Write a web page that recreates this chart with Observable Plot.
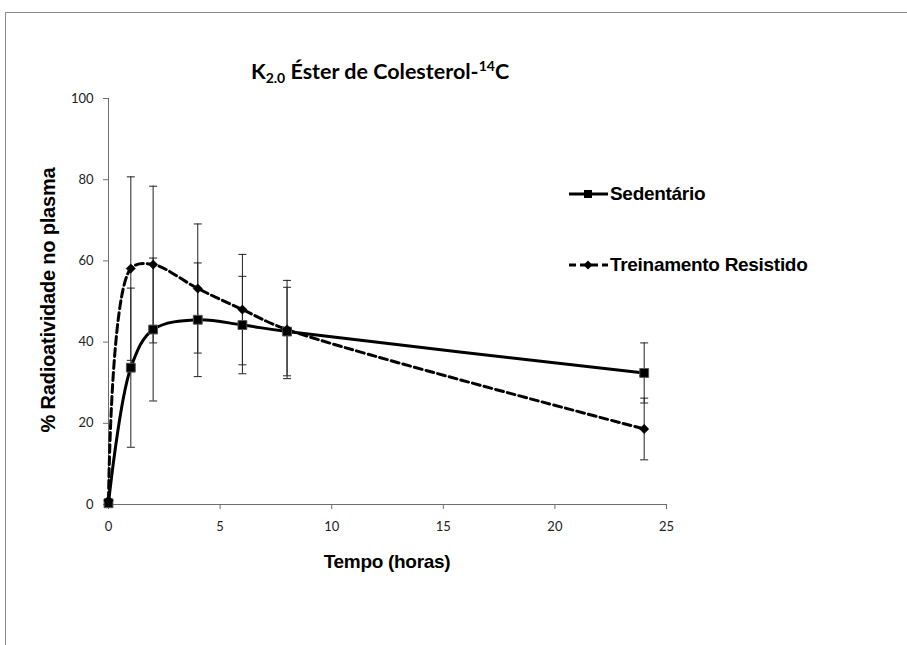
<!DOCTYPE html>
<html><head><meta charset="utf-8">
<script src="https://cdn.jsdelivr.net/npm/d3@7"></script>
<script src="https://cdn.jsdelivr.net/npm/@observablehq/plot@0.6"></script>
<style>
body{margin:0;background:#fff;}
#wrap{position:relative;width:907px;height:645px;overflow:hidden;background:#fff;}
#frame{position:absolute;left:5px;top:12px;width:1000px;height:1000px;border-top:1px solid #8a8a8a;border-left:1px solid #8a8a8a;box-sizing:border-box;}
.t{position:absolute;white-space:nowrap;color:#000;}
#title{font-family:Lato,"Open Sans",sans-serif;font-weight:bold;font-size:21.5px;left:380px;top:58px;transform:translateX(-50%);}
#title sub{font-size:14px;vertical-align:-4px;line-height:0;}
#title sup{font-size:14px;vertical-align:8px;line-height:0;}
#xlab{font-family:"Liberation Sans",Arial,sans-serif;font-weight:bold;font-size:19px;left:387px;top:551px;transform:translateX(-50%);letter-spacing:-0.3px;}
#ylab{font-family:"Liberation Sans",Arial,sans-serif;font-weight:bold;font-size:20px;left:48px;top:300px;transform:translate(-50%,-50%) rotate(-90deg);letter-spacing:-0.2px;}
.leg{position:absolute;display:flex;align-items:center;font-family:"Liberation Sans",Arial,sans-serif;font-weight:bold;font-size:19px;white-space:nowrap;letter-spacing:-0.3px;}
.leg svg{margin-right:2px;}
</style></head><body>
<div id="wrap"><div id="frame"></div></div>
<script>
// ---- data ----
const tempo    = [0, 1, 2, 4, 6, 8, 24];
const sedMean  = [0.3, 33.7, 43.1, 45.5, 44.2, 42.6, 32.4];
const sedSD    = [0, 19.6, 17.6, 14.0, 12.0, 10.9, 7.4];
const treMean  = [1.0, 58.1, 59.1, 53.2, 48.0, 43.1, 18.6];
const treSD    = [0, 22.6, 19.3, 15.9, 13.6, 12.1, 7.6];
const xTicks   = [0, 5, 10, 15, 20, 25];
const yTicks   = [0, 20, 40, 60, 80, 100];
const seriesNames = ["Sedentário", "Treinamento Resistido"];

const sed = tempo.map((t, i) => ({t, m: sedMean[i], sd: sedSD[i]}));
const tre = tempo.map((t, i) => ({t, m: treMean[i], sd: treSD[i]}));
const all = [...sed, ...tre].filter(d => d.sd > 0);
const caps = all.flatMap(d => [{t: d.t, y: d.m - d.sd}, {t: d.t, y: d.m + d.sd}]);

const capSymbol = {draw(ctx, size) { const w = Math.sqrt(size / Math.PI); ctx.moveTo(-w, 0); ctx.lineTo(w, 0); }};

const chart = Plot.plot({
  width: 907, height: 645,
  marginLeft: 108, marginRight: 241, marginTop: 98, marginBottom: 141,
  style: {fontFamily: "Lato, 'Open Sans', sans-serif", fontSize: "13px", background: "transparent", color: "#000"},
  x: {domain: [0, 25]},
  y: {domain: [0, 100]},
  marks: [
    Plot.ruleX([0], {stroke: "#6e6e6e", strokeWidth: 1}),
    Plot.ruleY([0], {stroke: "#6e6e6e", strokeWidth: 1}),
    Plot.axisX({ticks: xTicks, tickSize: 5, tickPadding: 12, stroke: "#6e6e6e", tickFormat: d => d, label: null, fill: "#222"}),
    Plot.axisY({ticks: yTicks, tickSize: 5, tickPadding: 10, stroke: "#6e6e6e", tickFormat: d => d, label: null, fill: "#222"}),
    Plot.ruleX(all, {x: "t", y1: d => d.m - d.sd, y2: d => d.m + d.sd, stroke: "#222", strokeWidth: 1}),
    Plot.dot(caps, {x: "t", y: "y", symbol: capSymbol, r: 4, stroke: "#222", fill: "none", strokeWidth: 1}),
    Plot.line(sed, {x: "t", y: "m", curve: "catmull-rom", stroke: "#000", strokeWidth: 3}),
    Plot.line(tre, {x: "t", y: "m", curve: "catmull-rom", stroke: "#000", strokeWidth: 3, strokeDasharray: "8,4"}),
    Plot.dot(sed, {x: "t", y: "m", symbol: "square", r: 5, fill: "#000", stroke: "#555", strokeWidth: 1}),
    Plot.dot(tre, {x: "t", y: "m", symbol: "diamond2", r: 4.2, fill: "#000", stroke: "#000", strokeWidth: 0.5})
  ]
});
chart.style.position = "absolute";
chart.style.left = "0px";
chart.style.top = "0px";
const wrap = document.getElementById("wrap");
wrap.appendChild(chart);

function addText(id, html) { const d = document.createElement("div"); d.className = "t"; d.id = id; d.innerHTML = html; wrap.appendChild(d); }
addText("title", "K<sub>2.0</sub> Éster de Colesterol-<sup>14</sup>C");
addText("xlab", "Tempo (horas)");
addText("ylab", "% Radioatividade no plasma");

function addLegend(name, top, dashed, marker) {
  const d = document.createElement("div");
  d.className = "leg";
  d.style.left = "569px";
  d.style.top = (top - 11) + "px";
  d.style.height = "22px";
  const dash = dashed ? 'stroke-dasharray="7,4"' : '';
  const mk = marker === "square"
    ? '<rect x="15" y="7" width="8" height="8" fill="#000"/>'
    : '<path d="M19,6.5 L23.5,11 L19,15.5 L14.5,11 Z" fill="#000"/>';
  d.innerHTML = `<svg width="39" height="22"><line x1="0" x2="39" y1="11" y2="11" stroke="#000" stroke-width="3" ${dash}/>${mk}</svg><span>${name}</span>`;
  wrap.appendChild(d);
}
addLegend(seriesNames[0], 194, false, "square");
addLegend(seriesNames[1], 265, true, "diamond");
</script>
</body></html>
